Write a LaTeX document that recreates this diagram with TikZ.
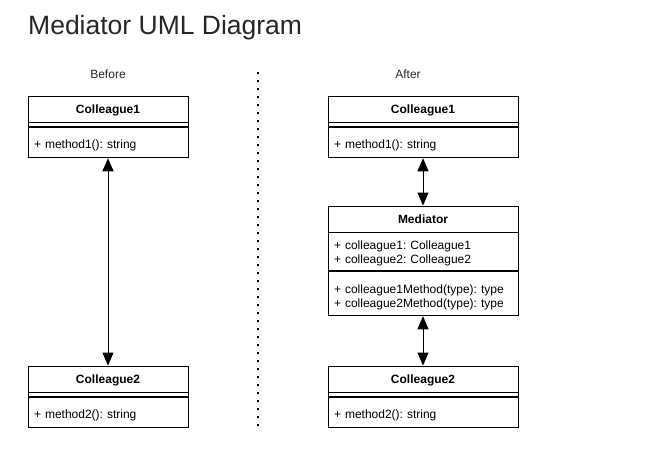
\documentclass[tikz,border=0pt]{standalone}
\usepackage{fontspec}
\setmainfont{Liberation Sans}
\frenchspacing
\usetikzlibrary{arrows.meta,positioning}

\begin{document}
\begin{tikzpicture}[x=1pt,y=1pt]
    \tikzstyle{head}=[rectangle, draw=black, fill=white, line width=0.9pt, minimum height=26pt, inner sep=0pt, text height=9pt, text depth=0pt, font=\fontsize{12}{14}\selectfont\bfseries]
    \tikzstyle{gap}=[rectangle, draw=black, fill=white, line width=0.9pt, minimum height=4pt, inner sep=0pt]
    \tikzstyle{field}=[rectangle, draw=black, fill=white, line width=0.9pt, inner xsep=6pt, inner ysep=0pt, align=left, text height=12pt, text depth=0pt, font=\fontsize{12}{14}\selectfont]
    \tikzstyle{caption}=[font=\fontsize{12}{14}\selectfont, text=black!85]
    \tikzstyle{connect}=[{Triangle[length=13pt,width=11pt]}-{Triangle[length=13pt,width=11pt]}, line width=0.9pt]
    \tikzstyle{divider}=[line width=2pt, dash pattern=on 2pt off 6pt]

      \useasboundingbox (0,0) rectangle (661,-471);

      \node[anchor=base west, font=\fontsize{26.5}{30}\selectfont, text=black!85, inner sep=0pt] (title) at (28,-34) {Mediator UML Diagram};
      \node[caption] (before) at (108,-74) {Before};
      \node[caption] (after) at (408,-74) {After};

      % before
      \node[head, minimum width=160pt] (lc1) at (108,-109) {Colleague1};
      \node[gap, minimum width=160pt] (lc1gap) [below=0pt of lc1] {};
      \node[field, text width=148pt, minimum height=30pt] (lc1ops) [below=0pt of lc1gap] {+ method1(): string};

      \node[head, minimum width=160pt] (lc2) at (108,-379) {Colleague2};
      \node[gap, minimum width=160pt] (lc2gap) [below=0pt of lc2] {};
      \node[field, text width=148pt, minimum height=30pt] (lc2ops) [below=0pt of lc2gap] {+ method2(): string};

      % divider
      \coordinate (divtop) at (258,-72);
      \coordinate (divbot) at (258,-426);
      \draw[divider] (divtop) -- (divbot);

      % after
      \node[head, minimum width=190pt] (rc1) at (423,-109) {Colleague1};
      \node[gap, minimum width=190pt] (rc1gap) [below=0pt of rc1] {};
      \node[field, text width=178pt, minimum height=30pt] (rc1ops) [below=0pt of rc1gap] {+ method1(): string};

      \node[head, minimum width=190pt] (med) at (423,-219) {Mediator};
      \node[field, text width=178pt, minimum height=38pt, text height=9pt, text depth=14pt] (medattr) [below=0pt of med] {+ colleague1: Colleague1\\+ colleague2: Colleague2};
      \node[field, text width=178pt, minimum height=44pt, text height=9pt, text depth=10pt] (medops) [below=0pt of medattr] {+ colleague1Method(type): type\\+ colleague2Method(type): type};

      \node[head, minimum width=190pt] (rc2) at (423,-379) {Colleague2};
      \node[gap, minimum width=190pt] (rc2gap) [below=0pt of rc2] {};
      \node[field, text width=178pt, minimum height=30pt] (rc2ops) [below=0pt of rc2gap] {+ method2(): string};

      \path
        (lc1ops) edge [connect] (lc2)
        (rc1ops) edge [connect] (med)
        (medops) edge [connect] (rc2);
\end{tikzpicture}
\end{document}
